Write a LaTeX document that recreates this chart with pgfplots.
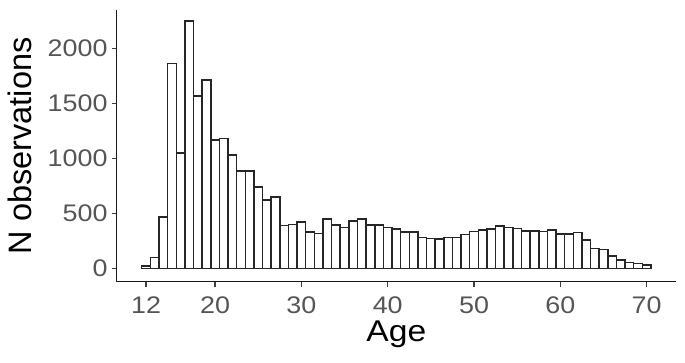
\documentclass[border=0pt]{standalone}
\usepackage{fontspec}
\setmainfont{Liberation Sans}
\newfontfamily\stretchfont[FakeStretch=1.12]{Liberation Sans}
\usepackage{pgfplots}
\pgfplotsset{compat=1.18}
\definecolor{ticklab}{HTML}{555555}
\begin{document}
\begin{tikzpicture}
\path[use as bounding box] (0,0) rectangle (685pt,362pt);
\begin{axis}[
  at={(116.7pt,80.3pt)}, anchor=south west,
  scale only axis, width=559.3pt, height=271.7pt,
  xmin=8.6, xmax=73.4, ymin=-120, ymax=2350,
  axis x line*=bottom, axis y line*=left,
  axis line style={black!90, line width=1.4pt},
  xtick={12,20,30,40,50,60,70},
  ytick={0,500,1000,1500,2000},
  tick align=outside, major tick length=5pt,
  tick style={black!75, line width=1.2pt},
  /pgf/number format/assume math mode=true,
  /pgf/number format/1000 sep={},
  xticklabel style={anchor=north, inner sep=0pt, yshift=-10pt, text=ticklab, font=\stretchfont\fontsize{24}{27}\selectfont},
  yticklabel style={anchor=east, inner sep=0pt, xshift=-4pt, text=ticklab, font=\stretchfont\fontsize{24}{27}\selectfont},
  xlabel={Age},
  ylabel={N observations},
  xlabel style={at={(axis description cs:0.5,-0.2208)}, anchor=base, inner sep=0pt, font=\stretchfont\fontsize{30}{33}\selectfont},
  ylabel style={at={(axis description cs:-0.173,0.5)}, anchor=center, inner sep=0pt, font=\fontsize{32.5}{35}\selectfont},
  clip=false,
]
\addplot[ybar, bar width=1, bar shift=0pt, fill=white, draw=black!85, line width=1.5pt] coordinates {
(12,25) (13,100) (14,470) (15,1864) (16,1051) (17,2248) (18,1570) (19,1712)
(20,1167) (21,1182) (22,1030) (23,885) (24,885) (25,742) (26,621) (27,651)
(28,390) (29,400) (30,425) (31,333) (32,318) (33,448) (34,394) (35,373)
(36,433) (37,448) (38,394) (39,394) (40,373) (41,358) (42,333) (43,333)
(44,282) (45,273) (46,267) (47,282) (48,282) (49,310) (50,336) (51,348)
(52,358) (53,385) (54,373) (55,364) (56,342) (57,342) (58,336) (59,348)
(60,312) (61,312) (62,327) (63,258) (64,182) (65,173) (66,112) (67,76)
(68,55) (69,45) (70,30)
};
\end{axis}
\end{tikzpicture}
\end{document}
